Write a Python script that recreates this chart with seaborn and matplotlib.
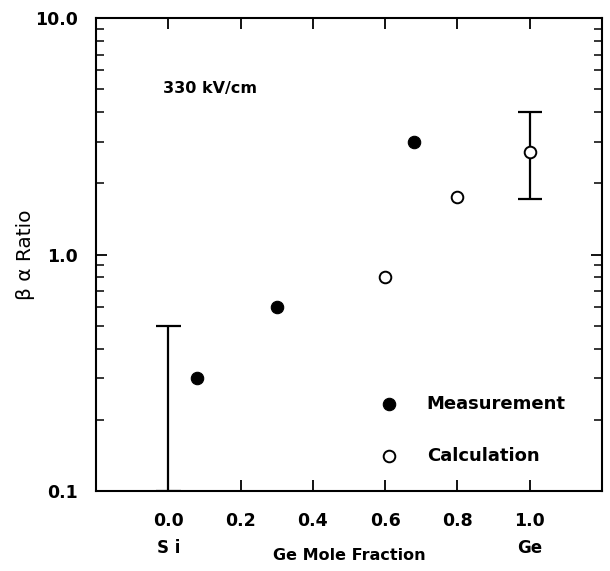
import matplotlib
matplotlib.use("Agg")
import matplotlib.pyplot as plt
import matplotlib.ticker as mticker
import seaborn as sns
import pandas as pd

# ---- data ----
meas_x = [0.08, 0.30, 0.68]
meas_y = [0.30, 0.60, 3.0]
calc_x = [0.60, 0.80, 1.00]
calc_y = [0.80, 1.75, 2.7]
ge_bar_x = [1.00]
ge_bar_mid = [2.7]
ge_bar_low = [1.72]
ge_bar_high = [4.0]
si_bar_x = [0.0]
si_bar_top = [0.5]
si_bar_bottom = [0.1]
x_ticks = [0.0, 0.2, 0.4, 0.6, 0.8, 1.0]
x_ticklabels = ["0.0", "0.2", "0.4", "0.6", "0.8", "1.0"]
y_ticks = [0.1, 1.0, 10.0]
y_ticklabels = ["0.1", "1.0", "10.0"]
end_labels = ["S i", "Ge"]
end_x = [0.0, 1.0]

sns.set_style("ticks")
plt.rcParams["font.family"] = ["DejaVu Sans"]
plt.rcParams["text.color"] = "black"
plt.rcParams["axes.labelcolor"] = "black"
plt.rcParams["xtick.color"] = "black"
plt.rcParams["ytick.color"] = "black"

fig = plt.figure(figsize=(6.10, 5.71), dpi=100)
ax = fig.add_axes([96/610, 1-491/571, 506/610, 473/571])

meas = pd.DataFrame({"x": meas_x, "y": meas_y})
calc = pd.DataFrame({"x": calc_x, "y": calc_y})

# error bars
err_low = [m - l for m, l in zip(ge_bar_mid, ge_bar_low)]
err_high = [h - m for m, h in zip(ge_bar_mid, ge_bar_high)]
ax.errorbar(ge_bar_x, ge_bar_mid, yerr=[err_low, err_high], fmt="none",
            ecolor="black", elinewidth=1.6, capsize=8.5, capthick=1.6, zorder=2)
si_mid = si_bar_top
si_low = [t - b for t, b in zip(si_bar_top, si_bar_bottom)]
ax.errorbar(si_bar_x, si_mid, yerr=[si_low, [0]*len(si_mid)], fmt="none",
            ecolor="black", elinewidth=1.6, capsize=9, capthick=1.6, zorder=2)

sns.scatterplot(data=meas, x="x", y="y", ax=ax, marker="o", s=80,
                color="black", edgecolor="black", linewidth=0.8,
                label="Measurement", zorder=3)
sns.scatterplot(data=calc, x="x", y="y", ax=ax, marker="o", s=70,
                facecolor="white", edgecolor="black", linewidth=1.4,
                label="Calculation", zorder=3)

ax.set_yscale("log")
ax.set_xlim(-0.2, 1.2)
ax.set_ylim(0.1, 10.0)

ax.set_xticks(x_ticks)
ax.set_xticklabels(x_ticklabels, fontsize=12.5, fontweight="bold")
ax.set_yticks(y_ticks)
ax.set_yticklabels(y_ticklabels, fontsize=12.5, fontweight="bold")
ax.yaxis.set_minor_locator(mticker.LogLocator(base=10, subs=range(2, 10)))
ax.yaxis.set_minor_formatter(mticker.NullFormatter())
ax.xaxis.set_minor_locator(mticker.NullLocator())

ax.tick_params(axis="both", which="major", direction="in", length=8, width=1.3,
               top=True, right=True, color="black")
ax.tick_params(axis="y", which="minor", direction="in", length=6, width=1.1,
               left=True, right=True, color="black")
ax.tick_params(axis="x", which="major", pad=15)
ax.tick_params(axis="y", which="major", pad=13)

for sp in ax.spines.values():
    sp.set_linewidth(1.5)
    sp.set_color("black")

ax.set_xlabel("Ge Mole Fraction", fontsize=11.5, fontweight="bold", labelpad=13)
ax.set_ylabel("β α Ratio", fontsize=14.5)
ax.yaxis.set_label_coords(-0.121, 0.5)

for lx, lt in zip(end_x, end_labels):
    ax.text(lx, -0.12, lt, transform=ax.get_xaxis_transform(), ha="center",
            va="center", fontsize=12, fontweight="bold")

ax.text(0.132, 0.852, "330 kV/cm", transform=ax.transAxes, ha="left",
        va="center", fontsize=11.5, fontweight="bold")

leg = ax.legend(loc="upper left", bbox_to_anchor=(0.561, 0.204), frameon=False,
                handlelength=1.0, handletextpad=1.6, labelspacing=1.9,
                borderpad=0, borderaxespad=0,
                prop={"size": 13, "weight": "bold"})

fig.savefig("out.png", dpi=100)
